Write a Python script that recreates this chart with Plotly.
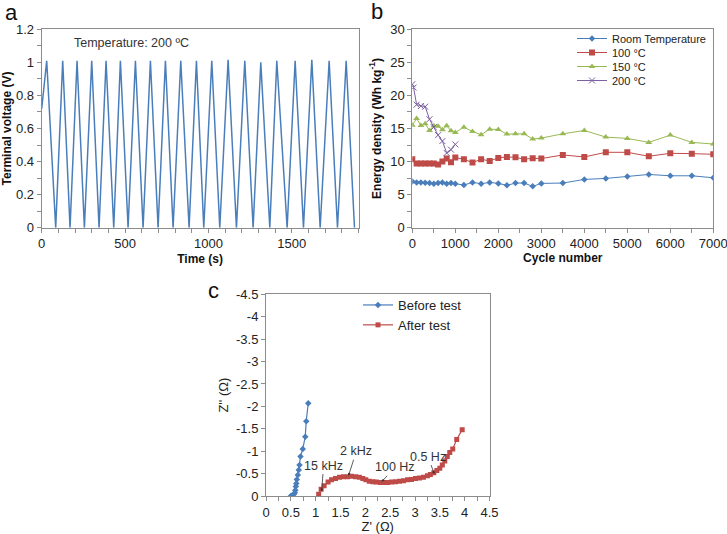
import plotly.graph_objects as go

# ---- panel a: galvanostatic charge/discharge at 200 C ----
v_start = 0.72
peak_times = [30, 126, 212, 300, 386, 472, 562, 652, 742, 834, 928, 1020,
              1118, 1218, 1314, 1410, 1520, 1620, 1724, 1826]
peak_volts = [1.01, 1.01, 1.01, 1.01, 1.01, 1.01, 1.01, 1.01, 1.01, 1.01,
              1.01, 1.01, 1.015, 1.01, 1.0, 1.01, 1.01, 1.015, 1.01, 1.01]
zero_times = [84, 170, 256, 344, 432, 518, 608, 698, 788, 884, 972, 1068,
              1168, 1268, 1368, 1472, 1570, 1670, 1774, 1876]

# ---- panel b: cycling ----
cycles_long = [0, 100, 200, 300, 400, 500, 600, 700, 800, 900, 1000, 1200,
               1400, 1600, 1800, 2000, 2200, 2400, 2600, 2800, 3000, 3500,
               4000, 4500, 5000, 5500, 6000, 6500, 7000]
e_room = [7.0, 6.85, 6.85, 6.8, 6.75, 6.65, 6.75, 6.85, 6.65, 6.75, 6.65, 6.45,
          6.85, 6.65, 6.85, 6.7, 6.4, 6.75, 6.75, 6.25, 6.7, 6.75, 7.3, 7.45,
          7.75, 8.05, 7.85, 7.85, 7.55]
e_100 = [10.35, 9.7, 9.7, 9.7, 9.7, 9.7, 9.55, 10.0, 10.45, 9.9, 10.6, 10.35,
         9.85, 10.35, 10.1, 10.55, 10.7, 10.65, 10.35, 10.5, 10.45, 11.0, 10.7,
         11.4, 11.4, 10.8, 11.25, 11.2, 11.1]
e_150 = [15.5, 16.5, 15.45, 15.7, 14.7, 15.4, 15.35, 14.8, 15.4, 14.65, 14.4,
         15.2, 14.55, 14.05, 14.9, 14.85, 14.15, 14.2, 14.2, 13.4, 13.55, 14.2,
         14.7, 13.7, 13.5, 12.9, 14.0, 12.9, 12.65]
cycles_200 = [0, 30, 100, 200, 300, 400, 500, 600, 700, 800, 900, 1000]
e_200 = [21.7, 21.2, 18.6, 18.4, 18.3, 16.4, 15.2, 14.0, 13.1, 11.3, 11.8, 12.6]

# ---- panel c: impedance ----
before_re = [0.50, 0.53, 0.56, 0.58, 0.59, 0.60, 0.61, 0.62, 0.64, 0.66, 0.675,
             0.695, 0.74, 0.79, 0.81, 0.85]
before_im = [0.0, -0.01, -0.04, -0.07, -0.13, -0.21, -0.28, -0.37, -0.47, -0.58,
             -0.69, -0.88, -1.05, -1.32, -1.67, -2.07]
after_re = [1.06, 1.11, 1.17, 1.25, 1.32, 1.40, 1.48, 1.56, 1.64, 1.72, 1.80,
            1.88, 1.95, 2.01, 2.08, 2.15, 2.22, 2.30, 2.37, 2.45, 2.53, 2.61,
            2.69, 2.77, 2.85, 2.93, 3.01, 3.09, 3.17, 3.25, 3.31, 3.38, 3.44,
            3.50, 3.55, 3.60, 3.65, 3.70, 3.76, 3.84, 3.95]
after_im = [-0.04, -0.15, -0.23, -0.31, -0.36, -0.39, -0.42, -0.43, -0.43, -0.44,
            -0.43, -0.42, -0.39, -0.36, -0.33, -0.32, -0.31, -0.30, -0.30, -0.30,
            -0.31, -0.32, -0.33, -0.34, -0.36, -0.37, -0.39, -0.40, -0.42, -0.45,
            -0.48, -0.52, -0.57, -0.62, -0.69, -0.78, -0.88, -0.97, -1.05, -1.26,
            -1.48]
c_ticks = [0, -0.5, -1, -1.5, -2, -2.5, -3, -3.5, -4, -4.5]
c_ticktext = ["0", "-0.5", "-1", "-1.5", "-2", "-2.5", "-3", "-3.5", "-4", "-4.5"]

# frequency labels: (text, point re, point im, label re, label im)
freq_labels = [
    ("15 kHz", 1.12, -0.10, 1.16, -0.68),
    ("2 kHz", 1.66, -0.45, 1.82, -1.0),
    ("100 Hz", 2.33, -0.32, 2.60, -0.64),
    ("0.5 Hz", 3.39, -0.49, 3.26, -0.88),
]

BLUE = "#4A7EBB"
RED = "#BE4B48"
GREEN = "#98B954"
PURPLE = "#7D60A0"
FONT = "Arial, 'Liberation Sans', sans-serif"

# build the sawtooth from the read turning points
t_a = [0]
v_a = [v_start]
for tp, vp, tz in zip(peak_times, peak_volts, zero_times):
    t_a += [tp, tz]
    v_a += [vp, 0]

fig = go.Figure()

fig.add_trace(go.Scatter(x=t_a, y=v_a, mode="lines", line=dict(color=BLUE, width=1.5),
                         showlegend=False, xaxis="x", yaxis="y"))

# panel b: one small legend per series so the rows sit as tight as in the original
fig.add_trace(go.Scatter(x=cycles_long, y=e_room, mode="lines+markers", name="Room Temperature",
                         line=dict(color=BLUE, width=1), marker=dict(symbol="diamond", size=5),
                         xaxis="x2", yaxis="y2", legend="legend"))
fig.add_trace(go.Scatter(x=cycles_long, y=e_100, mode="lines+markers", name="100 \u00b0C",
                         line=dict(color=RED, width=1), marker=dict(symbol="square", size=6),
                         xaxis="x2", yaxis="y2", legend="legend3"))
fig.add_trace(go.Scatter(x=cycles_long, y=e_150, mode="lines+markers", name="150 \u00b0C",
                         line=dict(color=GREEN, width=1), marker=dict(symbol="triangle-up", size=6),
                         xaxis="x2", yaxis="y2", legend="legend4"))
fig.add_trace(go.Scatter(x=cycles_200, y=e_200, mode="lines+markers", name="200 \u00b0C",
                         line=dict(color=PURPLE, width=1),
                         marker=dict(symbol="x-thin-open", size=6, line=dict(color=PURPLE, width=1)),
                         xaxis="x2", yaxis="y2", legend="legend5"))

fig.add_trace(go.Scatter(x=before_re, y=before_im, mode="lines+markers", name="Before test",
                         line=dict(color=BLUE, width=1.2), marker=dict(symbol="diamond", size=5),
                         xaxis="x3", yaxis="y3", legend="legend2"))
fig.add_trace(go.Scatter(x=after_re, y=after_im, mode="lines+markers", name="After test",
                         line=dict(color=RED, width=1.2), marker=dict(symbol="square", size=5),
                         xaxis="x3", yaxis="y3", legend="legend2"))

axis_common = dict(showline=True, linecolor="#8c8c8c", linewidth=1, mirror=True,
                   showgrid=False, zeroline=False, ticks="outside", ticklen=4,
                   tickcolor="#8c8c8c", tickfont=dict(size=13, color="#222"),
                   automargin=False, ticklabeloverflow="allow")

W, H = 727, 534


def xdom(l, r):
    return [l / W, r / W]


def ydom(t, b):
    return [1 - b / H, 1 - t / H]


def small_legend(top_px):
    return dict(x=572 / W, y=1 - top_px / H, xanchor="left", yanchor="top",
                bgcolor="rgba(0,0,0,0)", font=dict(size=11, color="#222"),
                itemwidth=30, tracegroupgap=0)


title_font = dict(size=12, color="#111")
minor_tick = dict(ticks="outside", ticklen=4, tickcolor="#8c8c8c")

fig.update_layout(
    width=W, height=H,
    margin=dict(l=0, r=0, t=0, b=0),
    paper_bgcolor="white", plot_bgcolor="white",
    font=dict(family=FONT, color="#222"),
    xaxis=dict(domain=xdom(41.7, 358.5), anchor="y", range=[0, 1900], dtick=500,
               minor=dict(dtick=100, **minor_tick),
               title=dict(text="<b>Time (s)</b>", font=title_font, standoff=4), **axis_common),
    yaxis=dict(domain=ydom(29.3, 227.7), anchor="x", range=[0, 1.2], dtick=0.2,
               minor=dict(dtick=0.1, **minor_tick),
               title=dict(text="<b>Terminal voltage (V)</b>", font=title_font, standoff=6),
               **axis_common),
    xaxis2=dict(domain=xdom(412.3, 713.3), anchor="y2", range=[0, 7000], dtick=1000,
                minor=dict(dtick=500, **minor_tick),
                title=dict(text="<b>Cycle number</b>", font=title_font, standoff=0), **axis_common),
    yaxis2=dict(domain=ydom(29.3, 227.7), anchor="x2", range=[0, 30], dtick=5,
                minor=dict(dtick=2.5, **minor_tick),
                title=dict(text="<b>Energy density (Wh kg<sup>-1</sup>)</b>", font=title_font,
                           standoff=6), **axis_common),
    xaxis3=dict(domain=xdom(266, 489.5), anchor="y3", range=[0, 4.5], dtick=0.5,
                minor=dict(dtick=0.25, **minor_tick),
                title=dict(text="Z' (\u03a9)", font=dict(size=13, color="#222"), standoff=0),
                **axis_common),
    yaxis3=dict(domain=ydom(294.3, 496), anchor="x3", range=[0, -4.5],
                tickvals=c_ticks, ticktext=c_ticktext,
                title=dict(text="Z'' (\u03a9)", font=dict(size=13, color="#222"), standoff=4),
                **axis_common),
    legend=small_legend(24),
    legend3=small_legend(38),
    legend4=small_legend(52),
    legend5=small_legend(66),
    legend2=dict(x=358 / W, y=1 - 290 / H, xanchor="left", yanchor="top",
                 bgcolor="rgba(0,0,0,0)", font=dict(size=13, color="#222"),
                 itemwidth=30, tracegroupgap=0),
)

annotations = [
    dict(text="a", x=3 / W, y=1 - 13 / H, xref="paper", yref="paper", showarrow=False,
         xanchor="left", yanchor="middle", font=dict(size=22, color="#111")),
    dict(text="b", x=369 / W, y=1 - 11 / H, xref="paper", yref="paper", showarrow=False,
         xanchor="left", yanchor="middle", font=dict(size=22, color="#111")),
    dict(text="c", x=206 / W, y=1 - 290 / H, xref="paper", yref="paper", showarrow=False,
         xanchor="left", yanchor="middle", font=dict(size=22, color="#111")),
    dict(text="Temperature: 200 \u00baC", x=72 / W, y=1 - 43 / H, xref="paper", yref="paper",
         showarrow=False, xanchor="left", yanchor="middle", font=dict(size=12.5, color="#333")),
]
for text, px_, py_, lx, ly in freq_labels:
    annotations.append(dict(text=text, x=px_, y=py_, xref="x3", yref="y3",
                            ax=lx, ay=ly, axref="x3", ayref="y3", showarrow=True,
                            arrowhead=2, arrowsize=0.7, arrowwidth=0.8, arrowcolor="#333",
                            standoff=0, font=dict(size=12.5, color="#333")))
fig.update_layout(annotations=annotations)

# the page body has a default 8px margin and may scroll; pin the figure to the window
fig.write_html("out.html", config={"displayModeBar": False},
               post_script="document.body.style.margin='0px';"
                           "document.body.style.overflow='hidden';")
